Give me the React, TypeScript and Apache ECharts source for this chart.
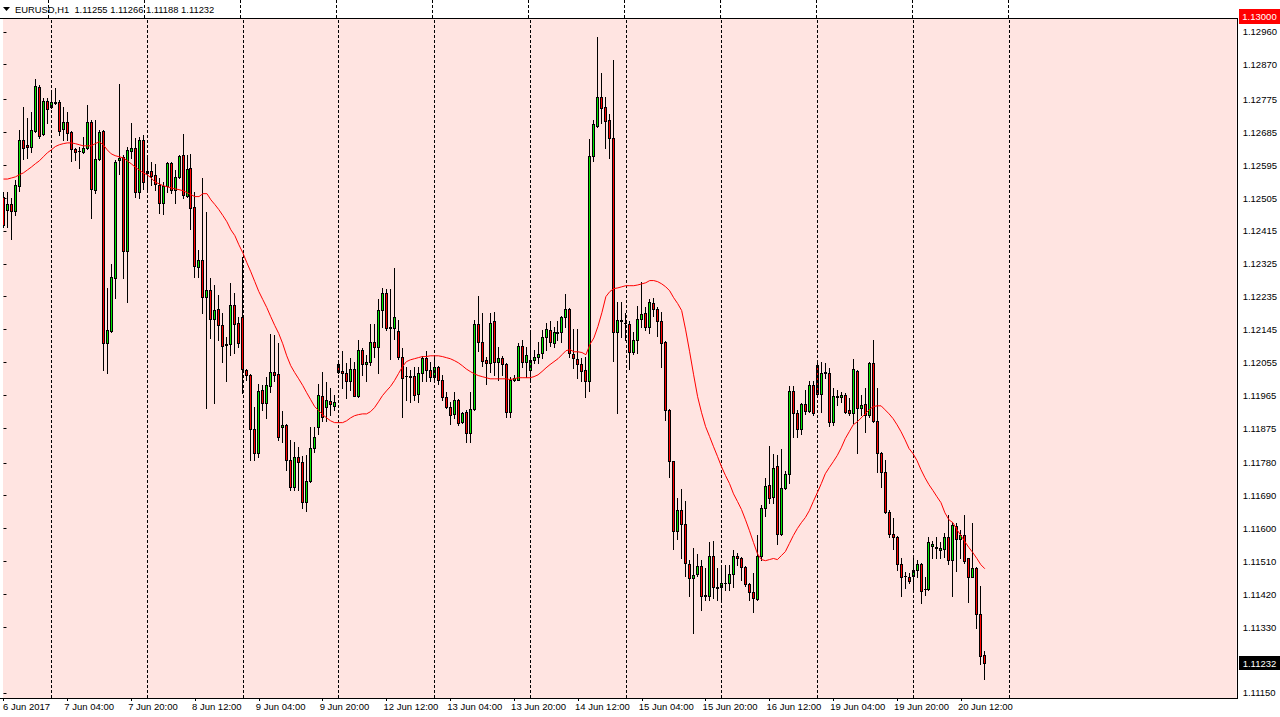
import React, { useEffect, useRef } from "react";
import * as echarts from "echarts";

const opens = [
1.12509,1.12473,1.12489,1.12470,1.12539,1.12665,1.12649,1.12646,1.12689,1.12810,
1.12681,1.12771,1.12755,1.12768,1.12768,1.12694,1.12714,1.12686,1.12640,1.12634,
1.12632,1.12643,1.12714,1.12528,1.12612,1.12689,1.12109,1.12141,1.12287,1.12610,
1.12618,1.12360,1.12634,1.12643,1.12522,1.12665,1.12574,1.12579,1.12568,1.12541,
1.12492,1.12539,1.12602,1.12528,1.12563,1.12624,1.12511,1.12588,1.12481,1.12317,
1.12336,1.12235,1.12254,1.12174,1.12202,1.12156,1.12104,1.12104,1.12213,1.12164,
1.12178,1.12035,1.12021,1.11873,1.11808,1.11980,1.11945,1.11989,1.12030,1.12024,
1.11879,1.11884,1.11789,1.11715,1.11795,1.11781,1.11674,1.11731,1.11821,1.11879,
1.11964,1.11934,1.11950,1.11936,1.12051,1.12032,1.12027,1.12005,1.12037,1.11964,
1.12090,1.12051,1.12057,1.12112,1.12098,1.12199,1.12246,1.12150,1.12150,1.12141,
1.12071,1.12019,1.12016,1.12019,1.11969,1.12027,1.12068,1.12035,1.12016,1.12043,
1.12008,1.11961,1.11934,1.11914,1.11953,1.11892,1.11920,1.11862,1.11928,1.12161,
1.12112,1.12062,1.12054,1.12167,1.12057,1.12068,1.12051,1.11920,1.12008,1.12008,
1.12101,1.12057,1.12035,1.12062,1.12071,1.12082,1.12125,1.12144,1.12109,1.12139,
1.12139,1.12180,1.12202,1.12079,1.12065,1.12051,1.12035,1.12003,1.12621,1.12703,
1.12783,1.12755,1.12719,1.12670,1.12139,1.12172,1.12164,1.12161,1.12084,1.12117,
1.12174,1.12191,1.12153,1.12218,1.12202,1.12169,1.12112,1.11925,1.11784,1.11594,
1.11652,1.11613,1.11504,1.11465,1.11476,1.11498,1.11416,1.11416,1.11526,1.11441,
1.11441,1.11452,1.11452,1.11476,1.11526,1.11520,1.11496,1.11449,1.11427,1.11408,
1.11526,1.11657,1.11720,1.11687,1.11770,1.11586,1.11712,1.11750,1.11977,1.11917,
1.11873,1.11942,1.11923,1.11994,1.12049,1.11969,1.12027,1.12027,1.11892,1.11961,
1.11961,1.11966,1.11925,1.11917,1.12032,1.11931,1.11942,1.11912,1.12054,1.11895,
1.11808,1.11756,1.11646,1.11586,1.11578,1.11504,1.11471,1.11468,1.11471,1.11487,
1.11504,1.11435,1.11435,1.11551,1.11548,1.11540,1.11545,1.11578,1.11515,1.11608,
1.11572,1.11583,1.11518,1.11468,1.11493,1.11367,1.11255
];

const highs = [
1.12522,1.12522,1.12506,1.12555,1.12692,1.12755,1.12725,1.12741,1.12832,1.12815,
1.12780,1.12780,1.12796,1.12807,1.12774,1.12755,1.12741,1.12689,1.12643,1.12646,
1.12673,1.12760,1.12719,1.12719,1.12692,1.12692,1.12259,1.12325,1.12610,1.12818,
1.12624,1.12646,1.12711,1.12670,1.12673,1.12678,1.12618,1.12605,1.12599,1.12560,
1.12549,1.12605,1.12604,1.12582,1.12624,1.12681,1.12624,1.12626,1.12522,1.12363,
1.12560,1.12467,1.12287,1.12267,1.12240,1.12191,1.12125,1.12273,1.12246,1.12178,
1.12344,1.12037,1.12024,1.11934,1.11997,1.11994,1.12016,1.12133,1.12130,1.12109,
1.11923,1.11886,1.11843,1.11838,1.11824,1.11800,1.11802,1.11879,1.11879,1.11997,
1.12030,1.12000,1.11986,1.11966,1.12060,1.12087,1.12054,1.12068,1.12057,1.12117,
1.12095,1.12076,1.12159,1.12159,1.12229,1.12259,1.12256,1.12256,1.12314,1.12172,
1.12095,1.12043,1.12035,1.12043,1.12043,1.12073,1.12087,1.12057,1.12071,1.12046,
1.12021,1.11975,1.11947,1.11975,1.11955,1.11920,1.11925,1.11975,1.12172,1.12238,
1.12191,1.12071,1.12191,1.12194,1.12098,1.12073,1.12053,1.12016,1.12021,1.12109,
1.12117,1.12098,1.12139,1.12090,1.12112,1.12144,1.12164,1.12169,1.12153,1.12169,
1.12183,1.12243,1.12204,1.12147,1.12147,1.12068,1.12071,1.12667,1.12719,1.12946,
1.12848,1.12783,1.12736,1.12883,1.12221,1.12221,1.12191,1.12167,1.12139,1.12210,
1.12276,1.12208,1.12229,1.12232,1.12208,1.12194,1.12114,1.11928,1.11786,1.11685,
1.11709,1.11676,1.11515,1.11548,1.11529,1.11515,1.11493,1.11562,1.11567,1.11493,
1.11493,1.11501,1.11501,1.11542,1.11534,1.11523,1.11498,1.11452,1.11479,1.11583,
1.11665,1.11739,1.11827,1.11805,1.11802,1.11819,1.11758,1.11989,1.11989,1.11925,
1.11945,1.11980,1.12003,1.12003,1.12062,1.12057,1.12054,1.12040,1.11986,1.11980,
1.11975,1.11972,1.11958,1.12065,1.12035,1.11966,1.11986,1.12056,1.12117,1.11986,
1.11810,1.11789,1.11652,1.11630,1.11580,1.11520,1.11482,1.11479,1.11518,1.11515,
1.11507,1.11468,1.11578,1.11567,1.11578,1.11562,1.11589,1.11638,1.11619,1.11616,
1.11597,1.11638,1.11520,1.11616,1.11495,1.11444,1.11266
];

const lows = [
1.12427,1.12427,1.12393,1.12459,1.12525,1.12612,1.12615,1.12632,1.12686,1.12670,
1.12678,1.12711,1.12752,1.12763,1.12678,1.12665,1.12665,1.12607,1.12610,1.12588,
1.12629,1.12640,1.12451,1.12520,1.12610,1.12035,1.12027,1.12139,1.12232,1.12571,
1.12287,1.12219,1.12615,1.12509,1.12506,1.12531,1.12525,1.12541,1.12528,1.12465,
1.12462,1.12522,1.12520,1.12492,1.12560,1.12506,1.12509,1.12421,1.12290,1.12290,
1.12191,1.11931,1.12122,1.11945,1.12117,1.12057,1.12003,1.12076,1.12082,1.12098,
1.11972,1.12008,1.11789,1.11789,1.11795,1.11925,1.11903,1.11975,1.12005,1.11843,
1.11838,1.11761,1.11706,1.11706,1.11706,1.11657,1.11649,1.11728,1.11810,1.11860,
1.11895,1.11895,1.11912,1.11925,1.12027,1.11986,1.11958,1.11980,1.11962,1.11961,
1.12021,1.12005,1.12049,1.12071,1.12027,1.12153,1.12144,1.12065,1.12120,1.12065,
1.11906,1.11953,1.11947,1.11953,1.11947,1.12005,1.12005,1.12003,1.12003,1.11997,
1.11953,1.11931,1.11887,1.11903,1.11884,1.11890,1.11838,1.11838,1.11925,1.12085,
1.12046,1.11997,1.12030,1.12021,1.12008,1.12021,1.11906,1.11906,1.12005,1.12006,
1.12043,1.12016,1.12008,1.12054,1.12054,1.12068,1.12090,1.12101,1.12098,1.12117,
1.12112,1.12153,1.12071,1.12040,1.12013,1.12005,1.11961,1.11977,1.12607,1.12700,
1.12711,1.12643,1.12615,1.12060,1.11917,1.12125,1.12117,1.12037,1.12079,1.12082,
1.12153,1.12144,1.12136,1.12183,1.12128,1.12043,1.11898,1.11742,1.11545,1.11572,
1.11520,1.11471,1.11416,1.11315,1.11471,1.11378,1.11405,1.11405,1.11411,1.11405,
1.11405,1.11433,1.11433,1.11441,1.11501,1.11460,1.11444,1.11405,1.11372,1.11405,
1.11515,1.11635,1.11671,1.11671,1.11559,1.11583,1.11709,1.11726,1.11852,1.11852,
1.11860,1.11914,1.11920,1.11912,1.11961,1.11920,1.12013,1.11881,1.11884,1.11939,
1.11947,1.11917,1.11912,1.11890,1.11808,1.11912,1.11865,1.11906,1.11892,1.11756,
1.11715,1.11643,1.11578,1.11545,1.11487,1.11416,1.11438,1.11452,1.11427,1.11468,
1.11397,1.11419,1.11433,1.11520,1.11520,1.11520,1.11523,1.11504,1.11414,1.11485,
1.11520,1.11507,1.11400,1.11466,1.11329,1.11230,1.11188
];

const closes = [
1.12432,1.12489,1.12470,1.12541,1.12665,1.12643,1.12646,1.12692,1.12812,1.12676,
1.12771,1.12749,1.12768,1.12766,1.12689,1.12714,1.12684,1.12640,1.12632,1.12633,
1.12643,1.12714,1.12530,1.12612,1.12686,1.12109,1.12144,1.12290,1.12605,1.12615,
1.12360,1.12637,1.12643,1.12522,1.12665,1.12549,1.12579,1.12565,1.12544,1.12492,
1.12539,1.12602,1.12528,1.12563,1.12621,1.12514,1.12585,1.12478,1.12320,1.12336,
1.12235,1.12254,1.12174,1.12199,1.12156,1.12101,1.12103,1.12213,1.12161,1.12109,
1.12037,1.12021,1.11873,1.11808,1.11977,1.11945,1.11992,1.12030,1.12021,1.11852,
1.11884,1.11789,1.11715,1.11795,1.11781,1.11674,1.11731,1.11821,1.11852,1.11966,
1.11906,1.11953,1.11942,1.11947,1.12030,1.12027,1.12005,1.12037,1.11964,1.12090,
1.12051,1.12057,1.12112,1.12098,1.12199,1.12246,1.12150,1.12153,1.12178,1.12071,
1.12013,1.12018,1.12019,1.11966,1.12027,1.12068,1.12035,1.12016,1.12043,1.12008,
1.11961,1.11934,1.11912,1.11953,1.11890,1.11917,1.11862,1.11928,1.12161,1.12112,
1.12060,1.12054,1.12164,1.12057,1.12068,1.12051,1.11920,1.12008,1.12011,1.12101,
1.12057,1.12076,1.12062,1.12071,1.12079,1.12125,1.12147,1.12112,1.12139,1.12136,
1.12180,1.12202,1.12082,1.12068,1.12051,1.12032,1.12003,1.12621,1.12708,1.12783,
1.12752,1.12716,1.12670,1.12139,1.12172,1.12167,1.12163,1.12084,1.12117,1.12174,
1.12188,1.12153,1.12221,1.12202,1.12167,1.12109,1.11925,1.11784,1.11594,1.11652,
1.11613,1.11507,1.11465,1.11474,1.11498,1.11416,1.11419,1.11526,1.11441,1.11438,
1.11452,1.11451,1.11476,1.11526,1.11520,1.11496,1.11449,1.11427,1.11411,1.11526,
1.11657,1.11717,1.11684,1.11767,1.11586,1.11712,1.11750,1.11977,1.11917,1.11873,
1.11942,1.11923,1.11994,1.11917,1.11969,1.12027,1.12030,1.11892,1.11964,1.11964,
1.11966,1.11920,1.11917,1.12037,1.11931,1.11939,1.11912,1.12054,1.11895,1.11808,
1.11756,1.11646,1.11586,1.11578,1.11504,1.11468,1.11470,1.11457,1.11487,1.11504,
1.11430,1.11434,1.11564,1.11559,1.11549,1.11548,1.11578,1.11515,1.11611,1.11572,
1.11583,1.11512,1.11468,1.11493,1.11367,1.11252,1.11232
];

const movingAverage = [
1.12557,1.12557,1.12560,1.12563,1.12569,1.12574,1.12582,1.12590,1.12599,1.12607,
1.12618,1.12629,1.12637,1.12646,1.12651,1.12654,1.12656,1.12656,1.12654,1.12651,
1.12648,1.12648,1.12648,1.12654,1.12659,1.12651,1.12637,1.12626,1.12621,1.12618,
1.12615,1.12607,1.12599,1.12590,1.12582,1.12574,1.12569,1.12560,1.12549,1.12544,
1.12539,1.12536,1.12533,1.12530,1.12528,1.12525,1.12520,1.12514,1.12509,1.12509,
1.12517,1.12517,1.12500,1.12487,1.12473,1.12457,1.12440,1.12418,1.12402,1.12377,
1.12355,1.12328,1.12303,1.12276,1.12249,1.12227,1.12205,1.12180,1.12156,1.12134,
1.12106,1.12073,1.12046,1.12027,1.12010,1.11992,1.11972,1.11953,1.11934,1.11923,
1.11912,1.11903,1.11895,1.11890,1.11890,1.11890,1.11895,1.11903,1.11909,1.11912,
1.11914,1.11914,1.11920,1.11931,1.11947,1.11964,1.11977,1.11989,1.12005,1.12024,
1.12043,1.12057,1.12062,1.12065,1.12068,1.12071,1.12071,1.12073,1.12073,1.12073,
1.12071,1.12068,1.12065,1.12060,1.12054,1.12046,1.12037,1.12030,1.12024,1.12019,
1.12016,1.12013,1.12010,1.12010,1.12010,1.12010,1.12010,1.12008,1.12010,1.12013,
1.12013,1.12013,1.12013,1.12016,1.12021,1.12030,1.12040,1.12049,1.12057,1.12065,
1.12076,1.12087,1.12090,1.12084,1.12084,1.12082,1.12076,1.12104,1.12122,1.12153,
1.12191,1.12235,1.12249,1.12257,1.12259,1.12262,1.12265,1.12265,1.12265,1.12267,
1.12270,1.12273,1.12279,1.12279,1.12276,1.12270,1.12262,1.12251,1.12232,1.12216,
1.12197,1.12144,1.12084,1.12021,1.11961,1.11917,1.11879,1.11852,1.11824,1.11797,
1.11769,1.11745,1.11723,1.11695,1.11674,1.11652,1.11624,1.11594,1.11562,1.11531,
1.11515,1.11512,1.11515,1.11518,1.11515,1.11526,1.11537,1.11559,1.11581,1.11600,
1.11616,1.11630,1.11649,1.11674,1.11698,1.11723,1.11750,1.11767,1.11783,1.11800,
1.11821,1.11846,1.11865,1.11884,1.11892,1.11903,1.11914,1.11925,1.11934,1.11936,
1.11936,1.11925,1.11914,1.11901,1.11884,1.11865,1.11843,1.11819,1.11805,1.11786,
1.11761,1.11739,1.11720,1.11704,1.11687,1.11671,1.11643,1.11624,1.11616,1.11597,
1.11581,1.11564,1.11548,1.11534,1.11518,1.11501,1.11490
];

const priceTicks = [
1.1296,1.1287,1.12775,1.12685,1.12595,1.12505,1.12415,1.12325,1.12235,1.12145,
1.12055,1.11965,1.11875,1.1178,1.1169,1.116,1.1151,1.1142,1.1133,1.1115
];
const timeTickIdx = [0,16,32,48,64,80,96,112,128,144,160,176,192,208,224,240];
const timeTickLabels = [
"6 Jun 2017","7 Jun 04:00","7 Jun 20:00","8 Jun 12:00","9 Jun 04:00","9 Jun 20:00",
"12 Jun 12:00","13 Jun 04:00","13 Jun 20:00","14 Jun 12:00","15 Jun 04:00","15 Jun 20:00",
"16 Jun 12:00","19 Jun 04:00","19 Jun 20:00","20 Jun 12:00"
];
const daySeparators = [12,36,60,84,108,132,156,180,204,228,252];
const symbolName = "EURUSD,H1";
const alertPrice = 1.13;

const FONT = "'Liberation Sans', Arial, sans-serif";
const LABEL_SHIFT = 0.75;
const BULL = "#00E600";
const BEAR = "#FF0000";

export default function App() {
  const ref = useRef<HTMLDivElement>(null);
  useEffect(() => {
    const el = ref.current;
    if (!el) return;
    const chart = echarts.init(el, null, { renderer: "svg" });
    const n = opens.length;
    const candleData = opens.map((o, i) => [i, o, closes[i], lows[i], highs[i]]);
    const maData = movingAverage.map((v, i) => [i, v]);
    // 4 px per hourly bar; bar centres land on pixel centres
    const xMin = -0.125;
    const xMax = xMin + 1237 / 4;
    const sepLine = {
      silent: true,
      symbol: ["none", "none"],
      label: { show: false },
      emphasis: { disabled: true },
      lineStyle: { color: "#000000", type: [3, 2], width: 1, opacity: 1 },
      data: daySeparators.map((d) => ({ xAxis: d })),
    };
    const renderCandle = (params: any, api: any) => {
      const i = api.value(0);
      const o = api.value(1);
      const c = api.value(2);
      const l = api.value(3);
      const h = api.value(4);
      const pO = api.coord([i, o]);
      const pC = api.coord([i, c]);
      const pL = api.coord([i, l]);
      const pH = api.coord([i, h]);
      const cx = Math.floor(pO[0]);
      const yTop = Math.round(Math.min(pO[1], pC[1]));
      const yBot = Math.round(Math.max(pO[1], pC[1]));
      const yH = Math.round(pH[1]);
      const yL = Math.round(pL[1]);
      const children: any[] = [
        { type: "rect", shape: { x: cx, y: yH, width: 1, height: Math.max(1, yL - yH + 1) }, style: { fill: "#000000" } },
        { type: "rect", shape: { x: cx - 1, y: yTop, width: 3, height: Math.max(1, yBot - yTop + 1) }, style: { fill: "#000000" } },
      ];
      if (yBot - yTop >= 2) {
        children.push({ type: "rect", shape: { x: cx, y: yTop + 1, width: 1, height: yBot - yTop - 1 }, style: { fill: c >= o ? BULL : BEAR } });
      }
      return { type: "group", children };
    };
    chart.setOption({
      animation: false,
      backgroundColor: "#ffffff",
      textStyle: { fontFamily: FONT },
      grid: [
        { left: 0, top: 18, width: 1237, height: 680, show: true, backgroundColor: "#FFE4E1", borderWidth: 0 },
        { left: 0, top: 0, width: 1237, height: 18, show: false },
      ],
      xAxis: [
        {
          type: "value", gridIndex: 0, min: xMin, max: xMax,
          axisLine: { show: false }, splitLine: { show: false },
          axisTick: { show: true, customValues: timeTickIdx, length: 3, lineStyle: { color: "#000000" } },
          axisLabel: {
            customValues: timeTickIdx.map((t) => Math.max(xMin, t - LABEL_SHIFT)),
            formatter: (v: number) => { const k = timeTickIdx.indexOf(Math.round(v + LABEL_SHIFT)); return k >= 0 ? timeTickLabels[k] : (v <= 0 ? timeTickLabels[0] : ""); },
            align: "left", margin: 3, color: "#000000", fontSize: 9.5, fontFamily: FONT,
          },
        },
        { type: "value", gridIndex: 1, min: xMin, max: xMax, show: false },
      ],
      yAxis: [
        {
          type: "value", gridIndex: 0, position: "right", min: 1.11136, max: 1.12998,
          axisLine: { show: false }, splitLine: { show: false },
          axisTick: { show: true, customValues: priceTicks, length: 3, lineStyle: { color: "#000000" } },
          axisLabel: { customValues: priceTicks, formatter: (v: number) => v.toFixed(5), margin: 6, color: "#000000", fontSize: 9.5, fontFamily: FONT },
        },
        { type: "value", gridIndex: 1, min: 0, max: 1, show: false },
      ],
      series: [
        {
          type: "line", xAxisIndex: 0, yAxisIndex: 0, data: [[xMin, 1.12]], z: 1,
          symbol: "none", lineStyle: { opacity: 0 }, silent: true,
          markLine: sepLine,
        },
        {
          type: "custom", xAxisIndex: 0, yAxisIndex: 0, z: 3,
          data: candleData, renderItem: renderCandle, clip: true,
          encode: { x: 0, y: [1, 2, 3, 4] },
        },
        {
          type: "line", xAxisIndex: 0, yAxisIndex: 0, data: maData,
          showSymbol: false, symbol: "none", z: 5,
          lineStyle: { color: "#FF0000", width: 1 },
        },
        {
          type: "line", xAxisIndex: 1, yAxisIndex: 1, data: [[xMin, 0.5]],
          symbol: "none", lineStyle: { opacity: 0 }, silent: true,
          markLine: sepLine,
        },
      ],
    });
    const yLast = chart.convertToPixel({ yAxisIndex: 0 }, closes[n - 1]) as number;
    const yAlert = chart.convertToPixel({ yAxisIndex: 0 }, alertPrice) as number;
    const headerText = `${symbolName}  ${opens[n - 1].toFixed(5)} ${highs[n - 1].toFixed(5)} ${lows[n - 1].toFixed(5)} ${closes[n - 1].toFixed(5)}`;
    chart.setOption({
      graphic: [
        { type: "rect", shape: { x: 0, y: 18, width: 1238, height: 1 }, style: { fill: "#000000" }, z: 10 },
        { type: "rect", shape: { x: 1237, y: 18, width: 1, height: 681 }, style: { fill: "#000000" }, z: 10 },
        { type: "rect", shape: { x: 0, y: 698, width: 1238, height: 1 }, style: { fill: "#000000" }, z: 10 },
        { type: "polygon", shape: { points: [[3, 7], [10, 7], [6.5, 11]] }, style: { fill: "#000000" } },
        { type: "text", x: 15, y: 9, style: { text: headerText, fill: "#000000", font: `9.4px ${FONT}`, verticalAlign: "middle" } },
        { type: "rect", shape: { x: 1239, y: Math.round(yAlert) - 8, width: 41, height: 15 }, style: { fill: "#FF0000" }, z: 11 },
        { type: "text", x: 1259.5, y: Math.round(yAlert) - 0.5, style: { text: alertPrice.toFixed(5), fill: "#ffffff", font: `9.5px ${FONT}`, align: "center", verticalAlign: "middle" }, z: 12 },
        { type: "rect", shape: { x: 1239, y: Math.round(yLast) - 7, width: 41, height: 14 }, style: { fill: "#000000" }, z: 11 },
        { type: "text", x: 1259.5, y: Math.round(yLast), style: { text: closes[n - 1].toFixed(5), fill: "#ffffff", font: `9.5px ${FONT}`, align: "center", verticalAlign: "middle" }, z: 12 },
      ],
    });
    return () => chart.dispose();
  }, []);
  return <div ref={ref} style={{ position: "fixed", left: 0, top: 0, width: 1280, height: 717 }} />;
}
